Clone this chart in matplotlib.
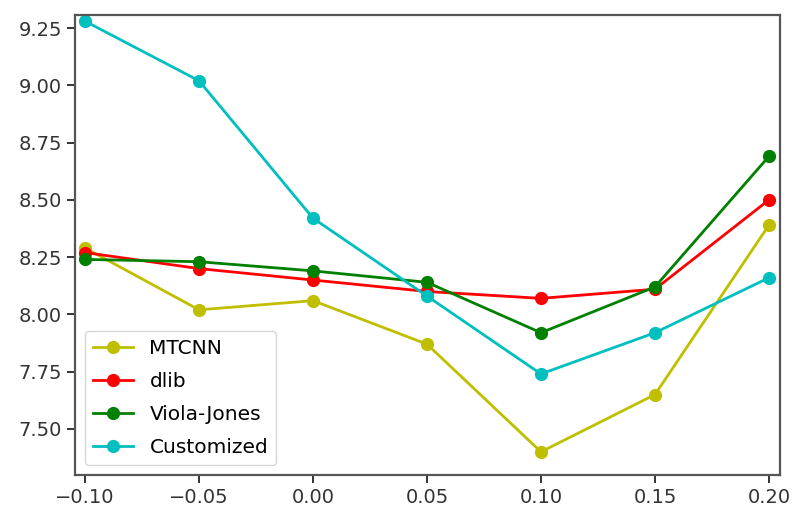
import matplotlib
matplotlib.use("Agg")
import matplotlib.pyplot as plt

# ── Data ──────────────────────────────────────────────────────────────────────
x = [-0.10, -0.05, 0.00, 0.05, 0.10, 0.15, 0.20]
mtcnn = [8.29, 8.02, 8.06, 7.87, 7.40, 7.65, 8.39]
dlib = [8.27, 8.20, 8.15, 8.10, 8.07, 8.11, 8.50]
viola_jones = [8.24, 8.23, 8.19, 8.14, 7.92, 8.12, 8.69]
customized = [9.28, 9.02, 8.42, 8.08, 7.74, 7.92, 8.16]

series = [
    ("MTCNN", mtcnn, "y"),
    ("dlib", dlib, "r"),
    ("Viola-Jones", viola_jones, "g"),
    ("Customized", customized, "c"),
]

# ── Plot ──────────────────────────────────────────────────────────────────────
fig = plt.figure(figsize=(7.95, 5.12), dpi=100)
ax = fig.add_axes([0.0943, 0.0723, 0.8867, 0.8984])

for label, vals, color in series:
    ax.plot(x, vals, color=color, marker="o", linewidth=2.0,
            markersize=8.5, label=label)

ax.set_xlim(-0.1044, 0.2048)
ax.set_ylim(7.299, 9.307)
ax.set_xticks(x)
ax.set_yticks([7.50, 7.75, 8.00, 8.25, 8.50, 8.75, 9.00, 9.25])
ax.tick_params(labelsize=14, length=6, width=1.4, colors="#333333")
for sp in ax.spines.values():
    sp.set_linewidth(1.6)
    sp.set_color("#555555")

ax.legend(loc="lower left", fontsize=14.5, framealpha=0.8, labelspacing=0.7)

fig.savefig("out.png", dpi=100)
